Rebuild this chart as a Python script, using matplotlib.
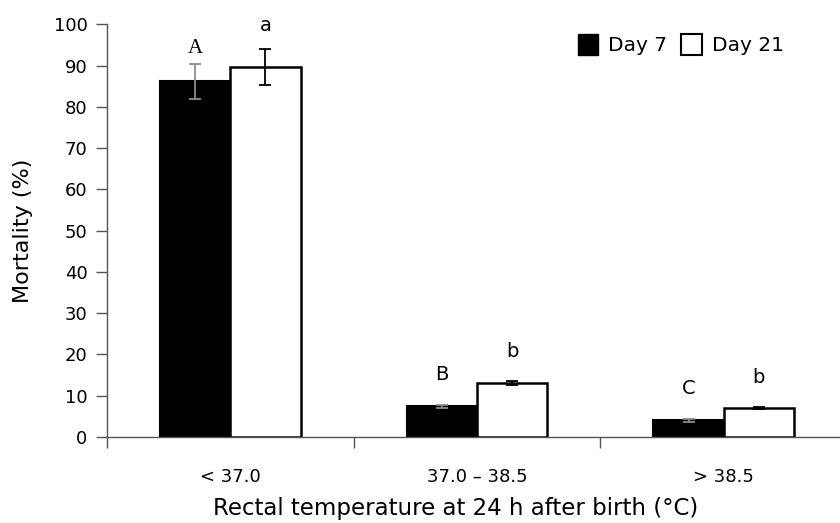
import numpy as np
import matplotlib.pyplot as plt
from matplotlib.patches import Patch

# Data
categories = ["< 37.0", "37.0 \u2013 38.5", "> 38.5"]
day7 = [86.2, 7.4, 4.0]
day7_err = [4.25, 0.35, 0.25]
day21 = [89.6, 13.1, 7.1]
day21_err = [4.35, 0.45, 0.25]
day7_letters = ["A", "B", "C"]
day21_letters = ["a", "b", "b"]

plt.rcParams["font.family"] = ["DejaVu Sans"]

fig = plt.figure(figsize=(8.4, 5.23), dpi=100)

# Axes placed in pixels; the right end runs past the figure edge like the reference
ax = fig.add_axes([107 / 840, 86 / 523, 740 / 840, 412.7 / 523])

x = np.arange(len(categories))
width = 0.285

ax.bar(x - width / 2, day7, width, color="black", edgecolor="black",
       linewidth=1.5, zorder=2)
ax.bar(x + width / 2, day21, width, color="white", edgecolor="black",
       linewidth=1.8, zorder=2)

ax.errorbar(x - width / 2, day7, yerr=day7_err, fmt="none",
            ecolor="#8c8c8c", elinewidth=1.3, capsize=4, capthick=1.3, zorder=3)
ax.errorbar(x + width / 2, day21, yerr=day21_err, fmt="none",
            ecolor="black", elinewidth=1.3, capsize=4, capthick=1.3, zorder=3)

# Significance letters
for i in range(len(categories)):
    top7 = day7[i] + day7_err[i]
    top21 = day21[i] + day21_err[i]
    if i == 0:
        ax.text(x[i] - width / 2, top7 + 1.5, day7_letters[i], ha="center",
                va="bottom", fontsize=15, family="Liberation Serif")
        ax.text(x[i] + width / 2, top21 + 3.5, day21_letters[i], ha="center",
                va="bottom", fontsize=14)
    else:
        ax.text(x[i] - width / 2, top7 + 5.2, day7_letters[i], ha="center",
                va="bottom", fontsize=14)
        ax.text(x[i] + width / 2, top21 + 4.8, day21_letters[i], ha="center",
                va="bottom", fontsize=14)

ax.set_xlim(-0.5, 2.5)
ax.set_ylim(0, 100)
ax.set_yticks(np.arange(0, 101, 10))
ax.set_xticks([-0.5, 0.5, 1.5, 2.5])
ax.set_xticklabels([])
ax.set_xticks(x, minor=True)
ax.set_xticklabels(categories, minor=True)
ax.tick_params(axis="x", which="minor", length=0, pad=22, labelsize=13)
ax.tick_params(axis="x", which="major", length=8, width=1, color="#555555",
               direction="out")
ax.tick_params(axis="y", length=8, width=1, color="#555555", labelsize=13,
               pad=6)

for side in ["top", "right"]:
    ax.spines[side].set_visible(False)
for side in ["left", "bottom"]:
    ax.spines[side].set_color("#555555")
    ax.spines[side].set_linewidth(1)

ax.set_ylabel("Mortality (%)", fontsize=16)
ax.yaxis.set_label_coords(-0.1, 0.5)
ax.set_xlabel("Rectal temperature at 24 h after birth (\u00b0C)", fontsize=16.5)
ax.xaxis.set_label_coords((456 - 107) / 740, -0.145)

handles = [Patch(facecolor="black", edgecolor="black", label="Day 7"),
           Patch(facecolor="white", edgecolor="black", linewidth=1.5, label="Day 21")]
fig.legend(handles=handles, loc="upper left", bbox_to_anchor=(560 / 840, 1 - 16 / 523),
           ncol=2, frameon=False, fontsize=14.5, handlelength=1.0, handleheight=1.2,
           handletextpad=0.5, columnspacing=0.7)

fig.savefig("out.png", dpi=100)
